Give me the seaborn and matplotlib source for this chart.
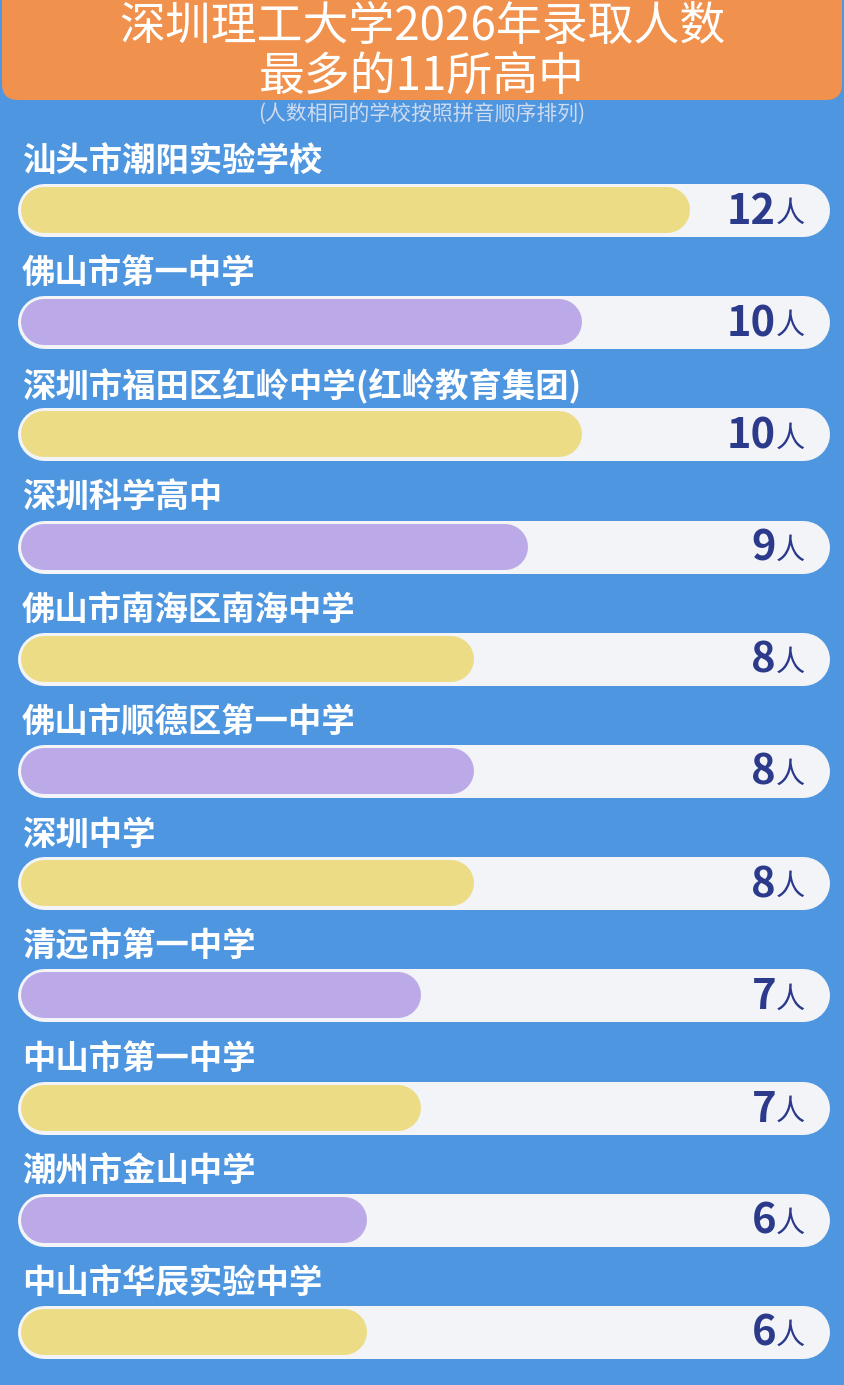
import matplotlib
matplotlib.use("Agg")
import matplotlib.pyplot as plt
from matplotlib.patches import FancyBboxPatch
from matplotlib.transforms import IdentityTransform
import pandas as pd
import seaborn as sns

# --- datos ---
schools = [
    "汕头市潮阳实验学校",
    "佛山市第一中学",
    "深圳市福田区红岭中学(红岭教育集团)",
    "深圳科学高中",
    "佛山市南海区南海中学",
    "佛山市顺德区第一中学",
    "深圳中学",
    "清远市第一中学",
    "中山市第一中学",
    "潮州市金山中学",
    "中山市华辰实验中学",
]
counts = [12, 10, 10, 9, 8, 8, 8, 7, 7, 6, 6]
unit = "人"
title = "深圳理工大学2026年录取人数\n最多的11所高中"
subtitle = "(人数相同的学校按照拼音顺序排列)"

# --- estilo ---
BG = "#4e96e0"
ORANGE = "#f0914d"
TRACK = "#f3f4f8"
YELLOW = "#ecdc86"
PURPLE = "#bcaae8"
NAVY = "#2c3a8c"

W, H = 844, 1385
PX = 53.8      # pixeles por persona
X0 = 44        # pixel del valor 0
PITCH = 112.2  # separacion de filas
Y0 = 210       # centro de la primera fila


def main():
    sns.set_theme(style="white")
    plt.rcParams["font.family"] = ["Noto Sans CJK SC", "DejaVu Sans"]

    df = pd.DataFrame({"school": schools, "count": counts})
    colors = [YELLOW if i % 2 == 0 else PURPLE for i in range(len(schools))]

    fig = plt.figure(figsize=(W / 100, H / 100), dpi=100)
    fig.patch.set_facecolor(BG)
    ax = fig.add_axes([0, 0, 1, 1])
    ax.set_facecolor(BG)

    sns.barplot(data=df, x="count", y="school", hue="school", palette=colors,
                orient="h", legend=False, width=0.4, ax=ax)

    ax.set_xlim(-X0 / PX, (W - X0) / PX)
    ax.set_ylim((H - Y0) / PITCH, -Y0 / PITCH)
    ax.axis("off")

    # --- pistas blancas y barras redondeadas ---
    bar_px, track_px = 46, 53
    r_bar = bar_px / 2 / PX
    r_track = track_px / 2 / PX
    left_bar = (21 - X0) / PX
    track_l = (17 - X0) / PX
    track_r = (829 - X0) / PX

    for p, color, name, v in zip(list(ax.patches), colors, schools, counts):
        yc = p.get_y() + p.get_height() / 2
        val = p.get_width()
        p.remove()
        ax.plot([track_l + r_track, track_r - r_track], [yc, yc], color=TRACK,
                lw=track_px * 0.72, solid_capstyle="round", zorder=1)
        ax.plot([left_bar + r_bar, val - r_bar], [yc, yc], color=color,
                lw=bar_px * 0.72, solid_capstyle="round", zorder=2)
        ax.text(left_bar + 1 / PX, yc - 48 / PITCH, name, color="white",
                fontsize=24, fontweight="bold", ha="left", va="center",
                zorder=3)
        xr = (805 - X0) / PX
        ax.text(xr, yc + 4 / PITCH, unit, color=NAVY, fontsize=21,
                ha="right", va="center", zorder=3)
        ax.annotate(str(v), xy=(xr, yc + 2 / PITCH), xytext=(-29, 0),
                    textcoords="offset pixels", color=NAVY, fontsize=30,
                    fontweight="bold", ha="right", va="center", zorder=3)

    # --- banner del titulo ---
    fig.text(0.5, 1 - 114 / H, subtitle, color="#cfdbee", fontsize=15,
             ha="center", va="center")
    banner = FancyBboxPatch((2, H - 100), W - 4, 130,
                            boxstyle="round,pad=0,rounding_size=16",
                            transform=IdentityTransform(), facecolor=ORANGE,
                            edgecolor="none", zorder=5)
    fig.patches.append(banner)
    fig.text(0.5, 1 - 52 / H, title, color="white", fontsize=33,
             ha="center", va="center", linespacing=1.08, zorder=6)

    fig.savefig("out.png", dpi=100, facecolor=BG)


if __name__ == "__main__":
    main()
